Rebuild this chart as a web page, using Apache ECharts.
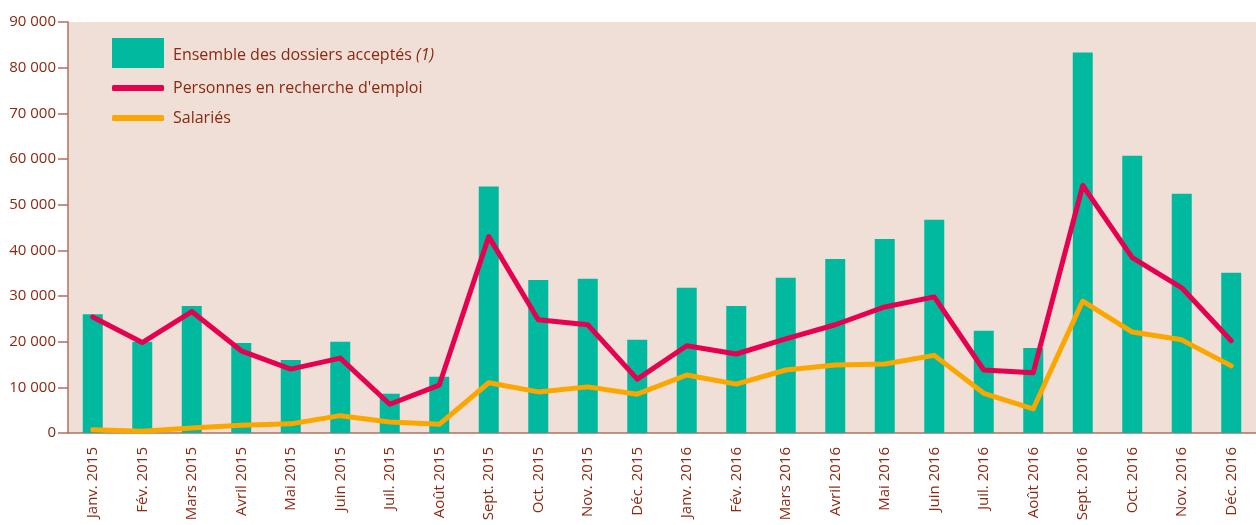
<!DOCTYPE html>
<html>
<head>
<meta charset="utf-8">
<script src="https://cdn.jsdelivr.net/npm/echarts@6/dist/echarts.min.js"></script>
<style>
  html, body { margin: 0; padding: 0; background: #fff; }
  #chart { width: 1256px; height: 525px; }
</style>
</head>
<body>
<div id="chart"></div>
<script>
  // categories (months)
  var months = ['Janv. 2015', 'Fév. 2015', 'Mars 2015', 'Avril 2015', 'Mai 2015', 'Juin 2015',
    'Juil. 2015', 'Août 2015', 'Sept. 2015', 'Oct. 2015', 'Nov. 2015', 'Déc. 2015',
    'Janv. 2016', 'Fév. 2016', 'Mars 2016', 'Avril 2016', 'Mai 2016', 'Juin 2016',
    'Juil. 2016', 'Août 2016', 'Sept. 2016', 'Oct. 2016', 'Nov. 2016', 'Déc. 2016'];

  // Ensemble des dossiers acceptés (1)
  var ensemble = [26000, 20000, 27800, 19700, 16000, 20000, 8600, 12300, 54000, 33500, 33800, 20400,
    31800, 27800, 34000, 38100, 42500, 46700, 22400, 18600, 83300, 60700, 52400, 35100];

  // Personnes en recherche d'emploi
  var demandeurs = [25400, 19800, 26600, 18000, 14000, 16400, 6300, 10500, 43000, 24800, 23700, 11800,
    19100, 17300, 20600, 23700, 27600, 29800, 13800, 13200, 54200, 38400, 31800, 20200];

  // Salariés
  var salaries = [700, 400, 1100, 1700, 2000, 3800, 2400, 1900, 11000, 9000, 10100, 8500,
    12700, 10700, 13800, 14900, 15100, 17000, 8700, 5300, 28900, 22100, 20400, 14700];

  var txt = '#8a2812';
  var axisCol = '#b2705e';
  var font = 'Open Sans';

  var chart = echarts.init(document.getElementById('chart'));
  chart.setOption({
    animation: false,
    textStyle: { fontFamily: font },
    grid: {
      left: 68,
      top: 22,
      bottom: 92,
      width: 1200,
      show: true,
      backgroundColor: '#f0dfd6',
      borderWidth: 0
    },
    legend: [
      {
        left: 112,
        top: 38,
        padding: 0,
        itemWidth: 52,
        itemHeight: 30,
        icon: 'rect',
        data: ['Ensemble des dossiers acceptés (1)'],
        formatter: function (name) {
          return name.replace(' (1)', ' {i|(1)}');
        },
        textStyle: {
          color: txt, fontSize: 16, fontFamily: font, padding: [4, 0, 0, 4],
          rich: { i: { fontStyle: 'italic', color: txt, fontSize: 16, fontFamily: font } }
        }
      },
      {
        left: 112,
        top: 78,
        padding: 0,
        orient: 'vertical',
        itemWidth: 52,
        itemHeight: 6,
        itemGap: 10,
        data: [
          { name: "Personnes en recherche d'emploi", icon: 'roundRect' },
          { name: 'Salariés', icon: 'roundRect' }
        ],
        textStyle: { color: txt, fontSize: 16, fontFamily: font, lineHeight: 20, padding: [0, 0, 0, 4] }
      }
    ],
    xAxis: {
      type: 'category',
      data: months,
      axisLine: { lineStyle: { color: axisCol, width: 1.5 } },
      axisTick: { length: 10, lineStyle: { color: axisCol, width: 1.5 } },
      axisLabel: {
        rotate: 90,
        interval: 0,
        margin: 14,
        color: txt,
        fontSize: 15,
        fontFamily: font
      }
    },
    yAxis: {
      type: 'value',
      min: 0,
      max: 90000,
      interval: 10000,
      splitLine: { show: false },
      axisLine: { show: true, lineStyle: { color: axisCol, width: 1.5 } },
      axisTick: { show: true, length: 10, lineStyle: { color: axisCol, width: 1.5 } },
      axisLabel: {
        margin: 12,
        color: txt,
        fontSize: 15,
        fontFamily: font,
        formatter: function (v) {
          return String(v).replace(/\B(?=(\d{3})+(?!\d))/g, ' ');
        }
      }
    },
    series: [
      {
        name: 'Ensemble des dossiers acceptés (1)',
        type: 'bar',
        data: ensemble,
        barWidth: 20,
        itemStyle: { color: '#00b99f' }
      },
      {
        name: "Personnes en recherche d'emploi",
        type: 'line',
        data: demandeurs,
        symbol: 'none',
        itemStyle: { color: '#e6004f' },
        lineStyle: { color: '#e6004f', width: 5, join: 'round', cap: 'round' }
      },
      {
        name: 'Salariés',
        type: 'line',
        data: salaries,
        symbol: 'none',
        itemStyle: { color: '#fca600' },
        lineStyle: { color: '#fca600', width: 5, join: 'round', cap: 'round' }
      }
    ]
  });
</script>
</body>
</html>
